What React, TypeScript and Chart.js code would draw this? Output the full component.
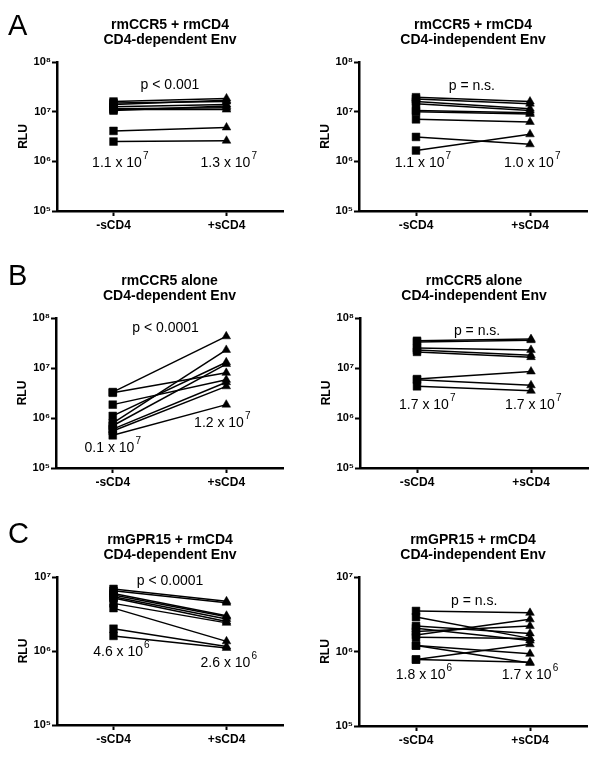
import React, { useEffect, useRef } from "react";
import { Chart, registerables } from "chart.js";

Chart.register(...registerables);

const FONT = "'Liberation Sans', Arial, Helvetica, sans-serif";

// ---- categories / ticks ----
const xCategories = ["-sCD4", "+sCD4"];
const yTicksAB = [1e5, 1e6, 1e7, 1e8];
const yTickLabelsAB = ["10⁵", "10⁶", "10⁷", "10⁸"];
const yTicksC = [1e5, 1e6, 1e7];
const yTickLabelsC = ["10⁵", "10⁶", "10⁷"];

// ---- data (RLU), one value per pair: -sCD4 then +sCD4 ----
const aDepMinus = [1.6e7, 1.5e7, 1.4e7, 1.25e7, 1.15e7, 1.1e7, 1.05e7, 4.1e6, 2.5e6];
const aDepPlus = [1.85e7, 1.6e7, 1.7e7, 1.4e7, 1.2e7, 1.1e7, 1.3e7, 4.8e6, 2.6e6];
const aIndMinus = [1.95e7, 1.8e7, 1.6e7, 1.45e7, 1.05e7, 1.0e7, 7.0e6, 3.1e6, 1.65e6];
const aIndPlus = [1.6e7, 1.45e7, 1.15e7, 1.05e7, 9.5e6, 9.0e6, 6.2e6, 2.2e6, 3.5e6];

const bDepMinus = [3.3e6, 3.2e6, 1.85e6, 1.1e6, 7.9e5, 7.0e5, 6.0e5, 5.5e5, 4.5e5];
const bDepPlus = [4.3e7, 8.0e6, 5.8e6, 1.3e7, 2.3e7, 1.2e7, 5.2e6, 4.3e6, 1.85e6];
const bIndMinus = [3.5e7, 3.3e7, 2.5e7, 2.3e7, 2.1e7, 6.0e6, 5.8e6, 4.3e6];
const bIndPlus = [3.8e7, 3.6e7, 2.3e7, 1.8e7, 1.65e7, 8.5e6, 4.5e6, 3.5e6];

const cDepMinus = [6.9e6, 6.5e6, 6.0e6, 5.7e6, 5.4e6, 5.2e6, 4.4e6, 3.8e6, 2.0e6, 1.6e6];
const cDepPlus = [4.7e6, 4.5e6, 3.0e6, 2.9e6, 2.7e6, 2.5e6, 2.4e6, 1.35e6, 1.15e6, 1.1e6];
const cIndMinus = [3.5e6, 2.9e6, 2.2e6, 2.05e6, 1.85e6, 1.67e6, 1.55e6, 1.2e6, 1.2e6, 7.8e5, 7.8e5];
const cIndPlus = [3.3e6, 1.5e6, 1.75e6, 1.4e6, 2.2e6, 2.7e6, 1.5e6, 9.3e5, 7.0e5, 1.25e6, 7.2e5];

// ---- texts ----
const titlesTop = ["rmCCR5 + rmCD4", "rmCCR5 + rmCD4", "rmCCR5 alone", "rmCCR5 alone", "rmGPR15 + rmCD4", "rmGPR15 + rmCD4"];
const titlesBottom = ["CD4-dependent Env", "CD4-independent Env", "CD4-dependent Env", "CD4-independent Env", "CD4-dependent Env", "CD4-independent Env"];
const pTexts = ["p < 0.001", "p = n.s.", "p < 0.0001", "p = n.s.", "p < 0.0001", "p = n.s."];
const minusSummary = ["1.1 x 10⁷", "1.1 x 10⁷", "0.1 x 10⁷", "1.7 x 10⁷", "4.6 x 10⁶", "1.8 x 10⁶"];
const plusSummary = ["1.3 x 10⁷", "1.0 x 10⁷", "1.2 x 10⁷", "1.7 x 10⁷", "2.6 x 10⁶", "1.7 x 10⁶"];

const SUP_MAP: Record<string, string> = {
  "⁰": "0", "¹": "1", "²": "2", "³": "3", "⁴": "4", "⁵": "5", "⁶": "6", "⁷": "7", "⁸": "8", "⁹": "9",
};

type Note = { text: string; x: number; y: number };
type PanelCfg = {
  left: number; top: number; width: number; height: number;
  axisLeft: number; axisRight: number; axisTop: number; axisBottom: number;
  yMin: number; yMax: number; yTicks: number[]; yLabels: string[];
  minus: number[]; plus: number[];
  title1: string; title2: string;
  letter?: string; letterBaseline?: number;
  notes: Note[];
};

const panels: PanelCfg[] = [
  {
    left: 0, top: 0, width: 300, height: 250, axisLeft: 57, axisRight: 283, axisTop: 62, axisBottom: 211,
    yMin: 1e5, yMax: 1e8, yTicks: yTicksAB, yLabels: yTickLabelsAB, minus: aDepMinus, plus: aDepPlus,
    title1: titlesTop[0], title2: titlesBottom[0], letter: "A", letterBaseline: 35,
    notes: [{ text: pTexts[0], x: 0.5, y: 3.44e7 }, { text: minusSummary[0], x: 0.06, y: 9.3e5 }, { text: plusSummary[0], x: 1.02, y: 9.3e5 }],
  },
  {
    left: 300, top: 0, width: 300, height: 250, axisLeft: 59, axisRight: 287, axisTop: 62, axisBottom: 211,
    yMin: 1e5, yMax: 1e8, yTicks: yTicksAB, yLabels: yTickLabelsAB, minus: aIndMinus, plus: aIndPlus,
    title1: titlesTop[1], title2: titlesBottom[1],
    notes: [{ text: pTexts[1], x: 0.49, y: 3.3e7 }, { text: minusSummary[1], x: 0.06, y: 9.3e5 }, { text: plusSummary[1], x: 1.02, y: 9.3e5 }],
  },
  {
    left: 0, top: 250, width: 300, height: 260, axisLeft: 56, axisRight: 283, axisTop: 68, axisBottom: 218,
    yMin: 1e5, yMax: 1e8, yTicks: yTicksAB, yLabels: yTickLabelsAB, minus: bDepMinus, plus: bDepPlus,
    title1: titlesTop[2], title2: titlesBottom[2], letter: "B", letterBaseline: 35,
    notes: [{ text: pTexts[2], x: 0.465, y: 6.3e7 }, { text: minusSummary[2], x: 0.0, y: 2.5e5 }, { text: plusSummary[2], x: 0.965, y: 7.9e5 }],
  },
  {
    left: 300, top: 250, width: 300, height: 260, axisLeft: 60, axisRight: 288, axisTop: 68, axisBottom: 218,
    yMin: 1e5, yMax: 1e8, yTicks: yTicksAB, yLabels: yTickLabelsAB, minus: bIndMinus, plus: bIndPlus,
    title1: titlesTop[3], title2: titlesBottom[3],
    notes: [{ text: pTexts[3], x: 0.527, y: 5.5e7 }, { text: minusSummary[3], x: 0.09, y: 1.82e6 }, { text: plusSummary[3], x: 1.02, y: 1.82e6 }],
  },
  {
    left: 0, top: 510, width: 300, height: 250, axisLeft: 57, axisRight: 283, axisTop: 67, axisBottom: 215,
    yMin: 1e5, yMax: 1e7, yTicks: yTicksC, yLabels: yTickLabelsC, minus: cDepMinus, plus: cDepPlus,
    title1: titlesTop[4], title2: titlesBottom[4], letter: "C", letterBaseline: 33,
    notes: [{ text: pTexts[4], x: 0.5, y: 8.8e6 }, { text: minusSummary[4], x: 0.07, y: 9.7e5 }, { text: plusSummary[4], x: 1.02, y: 6.9e5 }],
  },
  {
    left: 300, top: 510, width: 300, height: 250, axisLeft: 59, axisRight: 287, axisTop: 67, axisBottom: 216,
    yMin: 1e5, yMax: 1e7, yTicks: yTicksC, yLabels: yTickLabelsC, minus: cIndMinus, plus: cIndPlus,
    title1: titlesTop[5], title2: titlesBottom[5],
    notes: [{ text: pTexts[5], x: 0.51, y: 4.8e6 }, { text: minusSummary[5], x: 0.07, y: 4.8e5 }, { text: plusSummary[5], x: 1.0, y: 4.8e5 }],
  },
];

function drawNote(ctx: CanvasRenderingContext2D, text: string, x: number, y: number) {
  const last = text.charAt(text.length - 1);
  const baseFont = `14px ${FONT}`;
  const supFont = `10px ${FONT}`;
  ctx.textBaseline = "middle";
  if (SUP_MAP[last]) {
    const base = text.slice(0, -1);
    const exp = SUP_MAP[last];
    ctx.font = baseFont;
    const bw = ctx.measureText(base).width;
    ctx.font = supFont;
    const ew = ctx.measureText(exp).width;
    const x0 = x - (bw + ew + 1) / 2;
    ctx.textAlign = "left";
    ctx.font = baseFont;
    ctx.fillText(base, x0, y);
    ctx.font = supFont;
    ctx.fillText(exp, x0 + bw + 1, y - 7);
  } else {
    ctx.font = baseFont;
    ctx.textAlign = "center";
    ctx.fillText(text, x, y);
  }
}

function Panel({ cfg }: { cfg: PanelCfg }) {
  const ref = useRef<HTMLCanvasElement | null>(null);
  useEffect(() => {
    const canvas = ref.current;
    if (!canvas) return;
    const textPlugin = {
      id: "panelText",
      afterDraw(chart: any) {
        const ctx = chart.ctx;
        const area = chart.chartArea;
        const xs = chart.scales.x;
        const ys = chart.scales.y;
        ctx.save();
        ctx.fillStyle = "#000";
        if (cfg.letter) {
          ctx.font = `29px ${FONT}`;
          ctx.textAlign = "left";
          ctx.textBaseline = "alphabetic";
          ctx.fillText(cfg.letter, 8, cfg.letterBaseline);
        }
        const cx = (area.left + area.right) / 2;
        ctx.font = `bold 14px ${FONT}`;
        ctx.textAlign = "center";
        ctx.textBaseline = "middle";
        ctx.fillText(cfg.title1, cx, area.top - 37);
        ctx.fillText(cfg.title2, cx, area.top - 22);
        ctx.save();
        ctx.translate(area.left - 33, (area.top + area.bottom) / 2);
        ctx.rotate(-Math.PI / 2);
        ctx.font = `bold 12px ${FONT}`;
        ctx.textAlign = "center";
        ctx.fillText("RLU", 0, 0);
        ctx.restore();
        cfg.notes.forEach((n) => {
          drawNote(ctx, n.text, xs.getPixelForValue(n.x), ys.getPixelForValue(n.y));
        });
        ctx.restore();
      },
    };

    const datasets = cfg.minus.map((v, i) => ({
      data: [
        { x: 0, y: v },
        { x: 1, y: cfg.plus[i] },
      ],
      showLine: true,
      borderColor: "#000",
      backgroundColor: "#000",
      borderWidth: 1.5,
      pointStyle: ["rect", "triangle"],
      pointRadius: [5.5, 5],
      pointBorderWidth: 0.5,
      pointBorderColor: "#000",
      pointBackgroundColor: "#000",
      clip: false as any,
    }));

    const axisCommon = {
      grid: {
        display: true,
        drawOnChartArea: false,
        drawTicks: true,
        tickLength: 5,
        tickWidth: 2,
        color: "#000",
        tickColor: "#000",
      },
      border: { display: true, width: 2.5, color: "#000" },
    };

    const chart = new Chart(canvas, {
      type: "scatter",
      data: { datasets: datasets as any },
      plugins: [textPlugin],
      options: {
        responsive: false,
        animation: false,
        devicePixelRatio: 1,
        layout: {
          padding: { left: 0, top: cfg.axisTop, right: cfg.width - cfg.axisRight, bottom: 0 },
        },
        plugins: {
          legend: { display: false },
          tooltip: { enabled: false },
          title: { display: false },
        },
        scales: {
          x: {
            type: "linear",
            min: -0.5,
            max: 1.5,
            ...axisCommon,
            afterBuildTicks: (s: any) => {
              s.ticks = [0, 1].map((v) => ({ value: v }));
            },
            afterFit: (s: any) => {
              s.height = cfg.height - cfg.axisBottom;
            },
            ticks: {
              autoSkip: false,
              maxRotation: 0,
              padding: 2,
              color: "#000",
              font: { family: FONT, size: 12, weight: "bold" },
              callback: (_v: any, i: number) => xCategories[i],
            },
          },
          y: {
            type: "logarithmic",
            min: cfg.yMin,
            max: cfg.yMax,
            ...axisCommon,
            afterBuildTicks: (s: any) => {
              s.ticks = cfg.yTicks.map((v) => ({ value: v }));
            },
            afterFit: (s: any) => {
              s.width = cfg.axisLeft;
            },
            ticks: {
              autoSkip: false,
              padding: 1,
              color: "#000",
              font: { family: FONT, size: 11, weight: "bold" },
              callback: (_v: any, i: number) => cfg.yLabels[i],
            },
          },
        },
      } as any,
    });
    return () => chart.destroy();
  }, [cfg]);

  return (
    <div style={{ position: "absolute", left: cfg.left, top: cfg.top, width: cfg.width, height: cfg.height }}>
      <canvas ref={ref} width={cfg.width} height={cfg.height} style={{ width: cfg.width, height: cfg.height, display: "block" }} />
    </div>
  );
}

export default function App() {
  return (
    <div style={{ position: "absolute", left: 0, top: 0, width: 600, height: 760, background: "#fff", overflow: "hidden" }}>
      {panels.map((p, i) => (
        <Panel key={i} cfg={p} />
      ))}
    </div>
  );
}
